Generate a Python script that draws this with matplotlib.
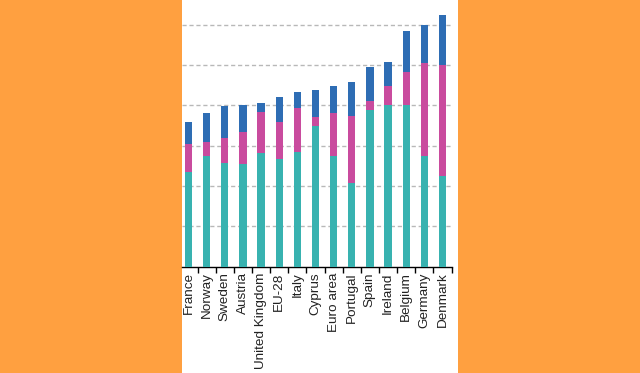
import numpy as np
import matplotlib
matplotlib.use('Agg')
import matplotlib.pyplot as plt
from matplotlib.patches import Rectangle
from matplotlib.ticker import FixedLocator

# data (stacked shares, arbitrary units 0-60)
countries = ['France', 'Norway', 'Sweden', 'Austria', 'United Kingdom', 'EU-28',
             'Italy', 'Cyprus', 'Euro area', 'Portugal', 'Spain', 'Ireland',
             'Belgium', 'Germany', 'Denmark']
teal = [23.4, 27.5, 25.6, 25.4, 28.1, 26.6, 28.4, 34.9, 27.5, 20.7, 38.8, 40.1, 40.1, 27.5, 22.5]
magenta = [7.0, 3.5, 6.2, 8.1, 10.3, 9.3, 11.0, 2.2, 10.5, 16.6, 2.3, 4.7, 8.2, 22.9, 27.5]
blue = [5.5, 7.0, 8.0, 6.7, 2.1, 6.2, 3.8, 6.7, 6.8, 8.4, 8.3, 5.9, 10.2, 9.5, 12.4]

c_teal = '#38b2b0'
c_mag = '#c94b9e'
c_blue = '#2e6db4'
orange = '#ffa040'

plt.rcParams['font.family'] = ['Liberation Sans', 'DejaVu Sans']

fig = plt.figure(figsize=(6.4, 3.73), dpi=100, facecolor=orange)
# white panel in the middle
fig.patches.append(Rectangle((182 / 640, 0), 276 / 640, 1, transform=fig.transFigure,
                             facecolor='white', edgecolor='none', zorder=-5))

ax = fig.add_axes([182 / 640, (373 - 266.7) / 373, (451.5 - 182) / 640, 266.7 / 373])
ax.set_zorder(2)
ax.patch.set_alpha(0)

x = np.arange(len(countries))
t = np.array(teal)
m = np.array(magenta)
b = np.array(blue)
w = 0.4
ax.bar(x, t, w, color=c_teal, zorder=3)
ax.bar(x, m, w, bottom=t, color=c_mag, zorder=3)
ax.bar(x, b, w, bottom=t + m, color=c_blue, zorder=3)

ax.set_xlim(-0.362, 14.5)
ax.set_ylim(0, 66.1)

ax.set_yticks([10, 20, 30, 40, 50, 60])
ax.yaxis.grid(True, color='#b8b8b8', linestyle=(0, (3, 2)), linewidth=1, zorder=1)
ax.tick_params(axis='y', left=False, labelleft=False)

ax.set_xticks(x)
ax.set_xticklabels(countries, rotation=90, fontsize=9.7, color='#222222')
ax.xaxis.set_minor_locator(FixedLocator(np.arange(0.5, 14.6, 1)))
ax.tick_params(axis='x', which='major', length=0, pad=4)
ax.tick_params(axis='x', which='minor', length=4, width=1, color='black', direction='out')

for s in ['top', 'left', 'right']:
    ax.spines[s].set_visible(False)
ax.spines['bottom'].set_color('black')
ax.spines['bottom'].set_linewidth(1)

fig.savefig('out.png', dpi=100, facecolor=orange)
